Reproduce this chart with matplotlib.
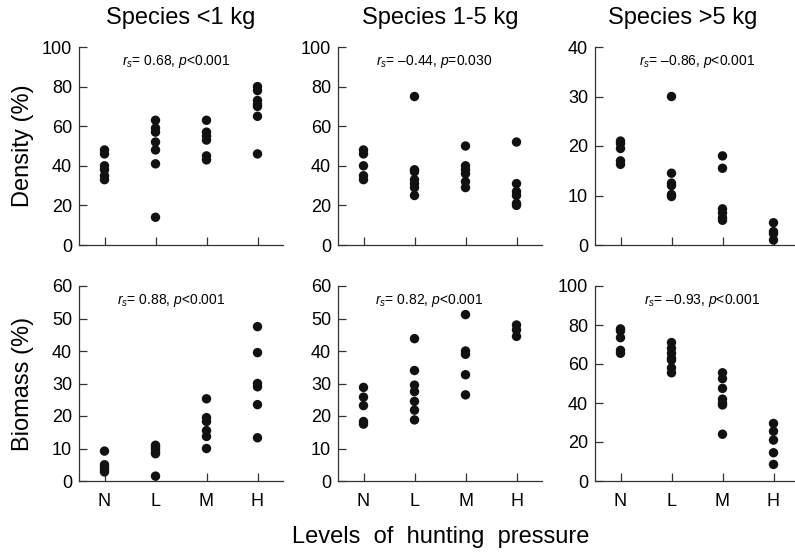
import matplotlib
matplotlib.use("Agg")
import matplotlib.pyplot as plt

plt.rcParams['font.family'] = ['Liberation Sans', 'DejaVu Sans']
plt.rcParams['mathtext.fontset'] = 'custom'
plt.rcParams['mathtext.rm'] = 'Liberation Sans'
plt.rcParams['mathtext.it'] = 'Liberation Sans:italic'

levels = ["N", "L", "M", "H"]
col_titles = ["Species <1 kg", "Species 1-5 kg", "Species >5 kg"]
row_labels = ["Density (%)", "Biomass (%)"]

# Density
dens_small = [[48, 46, 40, 38, 35, 33],
              [63, 59, 57, 52, 48, 41, 14],
              [63, 57, 55, 53, 45, 43],
              [80, 78, 73, 71, 70, 65, 46]]
dens_mid = [[48, 46, 40, 35, 33],
            [75, 38, 37, 33, 31, 29, 25],
            [50, 40, 38, 36, 32, 29],
            [52, 31, 27, 25, 21, 20]]
dens_large = [[21, 20.5, 19.5, 17, 16.3],
              [30, 14.5, 12.5, 12, 10.2, 9.8],
              [18, 15.5, 7.3, 6.5, 5.5, 5],
              [4.5, 2.7, 2.3, 1]]
# Biomass
bio_small = [[9.2, 5, 4.3, 3.5, 2.8],
             [11, 10.5, 9.8, 9, 8.4, 1.5],
             [25.3, 19.5, 18.3, 15.5, 13.7, 10],
             [47.5, 39.5, 30, 29, 23.5, 13.3]]
bio_mid = [[28.8, 25.8, 23.2, 18.3, 17.5],
           [43.8, 34, 29.5, 27.5, 24.5, 21.8, 18.8],
           [51.2, 40, 39, 32.7, 26.5],
           [48, 46.5, 44.5]]
bio_large = [[78, 77, 73.5, 67, 65.5],
             [71, 68, 65.5, 63, 62, 58, 55.5],
             [55.5, 52.5, 47.5, 42, 40, 39, 24],
             [29.5, 25.5, 21, 14.5, 8.5]]

rs_values = [["0.68", "\u20130.44", "\u20130.86"],
             ["0.88", "0.82", "\u20130.93"]]
p_values = [["<0.001", "=0.030", "<0.001"],
            ["<0.001", "<0.001", "<0.001"]]
y_max = [[100, 100, 40], [60, 60, 100]]
y_step = [[20, 20, 10], [10, 10, 20]]

data = [[dens_small, dens_mid, dens_large],
        [bio_small, bio_mid, bio_large]]

W, H = 795, 552
fig = plt.figure(figsize=(W / 100, H / 100), dpi=100)

col_x = [79, 338, 595]
row_top = [47, 286]
row_h = [198, 195]
ax_w = 204
txt_x = [[0.21, 0.186, 0.216], [0.186, 0.18, 0.24]]

for r in range(2):
    for c in range(3):
        left = col_x[c] / W
        bottom = 1 - (row_top[r] + row_h[r]) / H
        ax = fig.add_axes([left, bottom, ax_w / W, row_h[r] / H])
        groups = data[r][c]
        for i, vals in enumerate(groups):
            ax.scatter([i + 1] * len(vals), vals, s=46, color='#111111',
                       edgecolors='none', zorder=3, clip_on=False)
        ax.set_xlim(0.5, 4.5)
        ax.set_ylim(0, y_max[r][c])
        ax.set_yticks(range(0, y_max[r][c] + 1, y_step[r][c]))
        ax.set_xticks(range(1, 5))
        if r == 1:
            ax.set_xticklabels(levels)
        else:
            ax.set_xticklabels([])
        for s in ['top', 'right']:
            ax.spines[s].set_visible(False)
        for s in ['left', 'bottom']:
            ax.spines[s].set_color('#333333')
            ax.spines[s].set_linewidth(0.9)
        ax.tick_params(axis='both', direction='in', length=6, width=0.9,
                       color='#333333', labelsize=13)
        ax.tick_params(axis='y', pad=5)
        ax.tick_params(axis='x', pad=9)
        ax.text(txt_x[r][c], 0.925,
                r'$r_s$= ' + rs_values[r][c] + ', $p$' + p_values[r][c],
                transform=ax.transAxes, fontsize=10, ha='left', va='center')

title_cx = [181, 440, 683]
for c in range(3):
    fig.text(title_cx[c] / W, 1 - 18 / H, col_titles[c], fontsize=17,
             ha='center', va='center')

for r in range(2):
    cy = row_top[r] + row_h[r] / 2
    fig.text(23 / W, 1 - cy / H, row_labels[r], fontsize=17, rotation=90,
             ha='center', va='center')

fig.text(441 / W, 1 - 537 / H, "Levels  of  hunting  pressure", fontsize=17,
         ha='center', va='center')

fig.savefig("out.png", dpi=100)
